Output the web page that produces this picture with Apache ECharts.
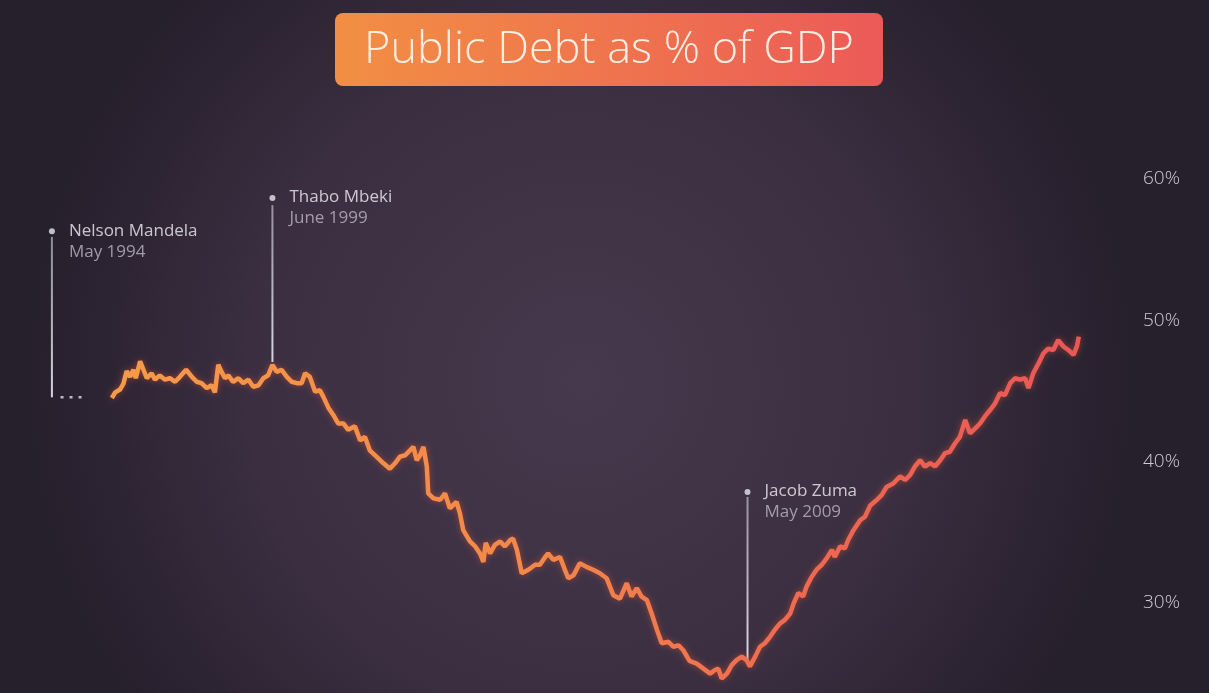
<!DOCTYPE html>
<html>
<head>
<meta charset="utf-8">
<script src="https://cdn.jsdelivr.net/npm/echarts@6/dist/echarts.min.js"></script>
<style>
html,body{margin:0;padding:0;background:#2a2230;}
#chart{width:1209px;height:693px;}
</style>
</head>
<body>
<div id="chart"></div>
<script>
// ---- Data ----
const titleText = 'Public Debt as % of GDP';

// time as decimal years
const years = [1996.07,1996.14,1996.24,1996.31,1996.38,1996.45,1996.52,1996.57,1996.66,1996.73,1996.80,1996.90,1996.97,1997.07,1997.18,1997.28,1997.39,1997.49,1997.62,1997.74,1997.84,1997.94,1998.05,1998.15,1998.22,1998.29,1998.36,1998.43,1998.50,1998.60,1998.71,1998.81,1998.92,1999.02,1999.13,1999.23,1999.33,1999.42,1999.51,1999.61,1999.72,1999.82,
1999.93,2000.03,2000.10,2000.20,2000.31,2000.41,2000.48,2000.59,2000.69,2000.79,2000.90,2001.00,2001.14,2001.25,2001.35,2001.45,2001.59,2001.73,2001.87,2001.98,2002.08,2002.19,2002.29,2002.36,2002.43,2002.50,2002.57,2002.64,2002.67,2002.78,2002.92,2003.02,2003.12,2003.26,2003.33,2003.40,2003.54,2003.65,2003.75,2003.82,
2003.87,2003.96,2004.06,2004.17,2004.27,2004.38,2004.44,2004.52,2004.62,2004.76,2004.90,2005.00,2005.11,2005.17,2005.28,2005.42,2005.52,2005.59,2005.70,2005.83,2005.97,2006.11,2006.25,2006.39,2006.53,2006.67,2006.81,2006.91,2007.02,2007.12,2007.23,2007.33,2007.44,2007.54,2007.68,2007.78,2007.89,2007.99,
2008.12,2008.27,2008.41,2008.55,2008.65,2008.72,2008.79,2008.90,2009.00,2009.10,2009.21,2009.31,2009.38,2009.49,2009.59,2009.69,2009.80,2009.90,2010.01,2010.11,2010.22,2010.29,2010.39,2010.49,2010.56,2010.67,2010.77,2010.88,2010.98,2011.09,2011.15,2011.26,2011.36,2011.43,2011.54,2011.68,2011.78,2011.89,2012.03,2012.13,
2012.23,2012.37,2012.51,2012.62,2012.72,2012.82,2012.93,2013.03,2013.14,2013.24,2013.35,2013.45,2013.55,2013.66,2013.76,2013.87,2013.97,2014.08,2014.18,2014.28,2014.39,2014.49,2014.60,2014.70,2014.81,2014.91,2015.01,2015.12,2015.19,2015.29,2015.40,2015.50,2015.60,2015.71,2015.81,2015.92,2016.02,2016.13,2016.20,2016.24];

// public debt, % of GDP
const debt = [44.5,44.9,45.1,45.5,46.4,46.0,46.5,45.9,47.1,46.5,45.9,46.25,45.8,46.1,45.8,45.9,45.65,46.0,46.5,46.0,45.65,45.55,45.2,45.4,44.9,46.85,46.35,45.9,46.1,45.65,45.9,45.55,45.8,45.3,45.4,45.9,46.1,46.85,46.35,46.5,46.0,45.65,
45.55,45.55,46.25,46.0,44.95,45.05,44.6,43.8,43.3,42.7,42.7,42.25,42.5,41.5,41.75,40.8,40.35,39.9,39.5,39.9,40.35,40.45,40.8,41.05,40.1,40.45,41.05,39.65,37.75,37.4,37.3,37.75,36.7,37.15,36.35,35.15,34.35,34.0,33.5,32.9,
34.25,33.5,34.1,34.35,34.0,34.45,34.55,33.75,32.1,32.35,32.7,32.7,33.25,33.5,33.05,33.25,32.35,31.75,31.95,32.8,32.55,32.35,32.1,31.75,30.55,30.3,31.4,30.45,31.05,30.45,30.2,29.25,28.1,27.15,27.25,26.9,27.0,26.65,
25.9,25.7,25.35,25.0,25.25,25.35,24.65,25.0,25.6,25.95,26.2,25.95,25.5,26.2,26.9,27.15,27.6,28.1,28.55,28.8,29.25,29.95,30.7,30.45,31.15,31.85,32.35,32.7,33.15,33.75,33.25,34.0,33.85,34.45,35.15,35.85,36.1,36.9,37.3,37.65,
38.2,38.45,38.95,38.7,39.05,39.65,40.1,39.65,39.9,39.65,40.1,40.6,40.7,41.3,41.75,42.95,42.0,42.35,42.7,43.2,43.65,44.1,44.85,44.7,45.55,45.9,45.8,45.9,45.2,46.25,46.95,47.65,48.0,47.9,48.6,48.15,47.9,47.55,48.15,48.85];

// y-axis tick labels shown
const yTicks = [30, 40, 50, 60];

// annotations (presidents)
const annNames = ['Nelson Mandela', 'Thabo Mbeki', 'Jacob Zuma'];
const annDates = ['May 1994', 'June 1999', 'May 2009'];
const annX = [1994.82, 1999.42, 2009.33];      // position on the time axis
const annDot = [56.3, 58.65, 37.85];           // level of the dot / label
const annTop = [55.9, 58.15, 37.5];            // top of the guide line
const annBottom = [44.55, 47.05, 25.95];       // bottom of the guide line
// dotted gap after the Mandela marker (no data shown)
const gapX = [1995.0, 1995.5];
const gapY = [44.55, 44.55];

// ---- Chart ----
const chart = echarts.init(document.getElementById('chart'), null, {renderer: 'canvas'});

const series = [];
series.push({
  type: 'line',
  name: 'Public debt',
  data: years.map((y, i) => [y, debt[i]]),
  showSymbol: false,
  smooth: false,
  z: 5,
  lineStyle: {
    width: 4.5,
    color: {
      type: 'linear', x: 0, y: 0, x2: 1, y2: 0,
      colorStops: [
        {offset: 0, color: '#f59a4a'},
        {offset: 0.45, color: '#f2874a'},
        {offset: 0.7, color: '#ee6a52'},
        {offset: 1, color: '#e95757'}
      ]
    },
    shadowColor: 'rgba(225,85,50,0.55)',
    shadowBlur: 6
  },
  emphasis: {disabled: true}
});

annNames.forEach((n, i) => {
  series.push({
    type: 'line',
    data: [[annX[i], annTop[i]], [annX[i], annBottom[i]]],
    showSymbol: false,
    silent: true,
    z: 4,
    clip: false,
    lineStyle: {
      width: 2,
      color: {
        type: 'linear', x: 0, y: 0, x2: 0, y2: 1,
        colorStops: [
          {offset: 0, color: 'rgba(225,222,235,0.55)'},
          {offset: 1, color: 'rgba(235,232,245,0.9)'}
        ]
      }
    }
  });
});

series.push({
  type: 'line',
  data: gapX.map((x, i) => [x, gapY[i]]),
  showSymbol: false,
  silent: true,
  clip: false,
  lineStyle: {width: 2.5, color: 'rgba(215,212,225,0.85)', type: [3, 6]}
});

series.push({
  type: 'scatter',
  data: annX.map((x, i) => [x, annDot[i], annNames[i], annDates[i]]),
  symbolSize: 6,
  clip: false,
  silent: true,
  z: 6,
  itemStyle: {color: '#e8e6ef'},
  label: {
    show: true,
    position: 'right',
    distance: 14,
    offset: [0, 10],
    formatter: p => '{n|' + p.data[2] + '}\n{d|' + p.data[3] + '}',
    rich: {
      n: {color: '#f0eef4', fontSize: 17, fontFamily: 'Open Sans', lineHeight: 21},
      d: {color: '#bdb8c4', fontSize: 17, fontFamily: 'Open Sans', lineHeight: 21}
    }
  }
});

const option = {
  backgroundColor: {
    type: 'radial', x: 0.48, y: 0.55, r: 0.8,
    colorStops: [
      {offset: 0, color: '#47394d'},
      {offset: 0.6, color: '#3a2e40'},
      {offset: 1, color: '#261f2c'}
    ]
  },
  animation: false,
  graphic: [
    {
      type: 'rect',
      left: 335, top: 13,
      shape: {width: 548, height: 73, r: 8},
      style: {
        fill: {
          type: 'linear', x: 0, y: 0, x2: 1, y2: 0,
          colorStops: [
            {offset: 0, color: '#f28f43'},
            {offset: 1, color: '#ec5a58'}
          ]
        }
      },
      z: 1
    },
    {
      type: 'text',
      x: 609, y: 50,
      style: {
        text: titleText,
        fill: '#fdeee2',
        font: '300 45px "Open Sans"',
        textAlign: 'center',
        textVerticalAlign: 'middle'
      },
      z: 2
    }
  ],
  grid: {left: 30, right: 79, top: 179, bottom: 5.3, containLabel: false},
  xAxis: {
    type: 'value',
    min: 1994.363, max: 2017.308,
    show: false,
    splitLine: {show: false}
  },
  yAxis: {
    type: 'value',
    position: 'right',
    min: 24, max: 60, interval: 2,
    axisLine: {show: false},
    axisTick: {show: false},
    splitLine: {show: false},
    axisLabel: {
      margin: 13,
      color: '#cfcad4',
      fontSize: 19,
      fontFamily: 'Open Sans',
      fontWeight: 300,
      formatter: v => (yTicks.indexOf(v) >= 0 ? v + '%' : '')
    }
  },
  series: series
};
chart.setOption(option);
</script>
</body>
</html>
